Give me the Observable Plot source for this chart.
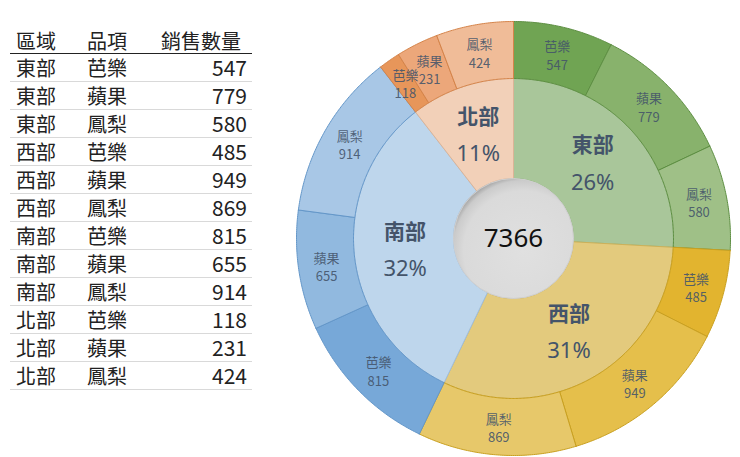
<!DOCTYPE html>
<html><head><meta charset="utf-8">
<script src="https://cdn.jsdelivr.net/npm/d3@7"></script>
<script src="https://cdn.jsdelivr.net/npm/@observablehq/plot@0.6"></script>
<style>
body{margin:0;background:#fff;width:740px;height:457px;position:relative;overflow:hidden;font-family:"Noto Sans CJK TC","Noto Sans",sans-serif;}
#table{position:absolute;left:10px;top:28px;}
table{border-collapse:collapse;width:242px;font-size:20px;color:#222;table-layout:fixed;}
th,td{box-sizing:border-box;white-space:nowrap;}
th{font-weight:normal;height:25px;line-height:25px;padding:0;border-bottom:1.5px solid #222;text-align:left;}
td{height:27px;line-height:27px;padding:0;border-bottom:1px solid #d9d9d9;}
.c1{padding-left:6px;}
.c3{text-align:right;padding-right:5px;}
td.c3{font-size:21px;}
th.c3{padding-right:11px;}
#chart{position:absolute;left:290px;top:0;}
</style></head><body>
<div id="table"></div><div id="chart"></div>
<script>
// ---- data ----
const headers = ["區域", "品項", "銷售數量"];
const regionNames = ["東部", "西部", "南部", "北部"];
const itemNames = ["芭樂", "蘋果", "鳳梨"];
const rowRegions = ["東部","東部","東部","西部","西部","西部","南部","南部","南部","北部","北部","北部"];
const rowItems = ["芭樂","蘋果","鳳梨","芭樂","蘋果","鳳梨","芭樂","蘋果","鳳梨","芭樂","蘋果","鳳梨"];
const salesValues = [547, 779, 580, 485, 949, 869, 815, 655, 914, 118, 231, 424];
const regionPctLabels = ["26%", "31%", "32%", "11%"];
const grandTotal = 7366;

// ---- styles ----
const regionFill = ["#a9c69a", "#e3ca7d", "#bed6ec", "#f2d0b8"];
const regionStroke = ["#8fb27c", "#cdb15a", "#9fbedd", "#dcb497"];
const itemFill = [
  ["#70a453", "#88b26c", "#9fc087"],
  ["#e2b42f", "#e5bf4b", "#e7c86a"],
  ["#77a8d8", "#91b9df", "#a8c7e6"],
  ["#e7965a", "#eca77a", "#f0bc98"]
];
const itemStroke = ["#5e8f43", "#c9a020", "#6497c9", "#d5844a"];
const labelColor = "#44546a";
const colWidths = ["77px", "70px", "95px"];
const R0 = 60, R1 = 160, R2 = 217;

// ---- table ----
const rows = salesValues.map((v, i) => ({region: rowRegions[i], item: rowItems[i], value: v}));
const tbl = d3.select("#table").append("table");
tbl.append("colgroup").selectAll("col").data(colWidths).join("col").style("width", d => d);
tbl.append("tr").selectAll("th").data(headers).join("th")
  .attr("class", (d, i) => "c" + (i + 1)).text(d => d);
rows.forEach(r => {
  const tr = tbl.append("tr");
  tr.append("td").attr("class", "c1").text(r.region);
  tr.append("td").attr("class", "c2").text(r.item);
  tr.append("td").attr("class", "c3").text(r.value);
});

// ---- sunburst geometry ----
const regionRows = regionNames.map((name, ri) => ({
  name, ri, value: d3.sum(rows.filter(r => r.region === name), r => r.value), pct: regionPctLabels[ri]
}));
const pie = d3.pie().sort(null).value(d => d.value);
const innerArcs = pie(regionRows);
const outerArcs = pie(rows);

function arcPoly(a0, a1, r0, r1, key, fill, stroke) {
  const n = Math.max(2, Math.ceil((a1 - a0) / (Math.PI / 360)));
  const pts = [];
  for (let i = 0; i <= n; i++) { const a = a0 + (a1 - a0) * i / n; pts.push([r1 * Math.sin(a), r1 * Math.cos(a)]); }
  for (let i = n; i >= 0; i--) { const a = a0 + (a1 - a0) * i / n; pts.push([r0 * Math.sin(a), r0 * Math.cos(a)]); }
  pts.push(pts[0]);
  return pts.map(([x, y]) => ({x, y, key, fill, stroke}));
}

const polys = [];
innerArcs.forEach((a, i) => polys.push(...arcPoly(a.startAngle, a.endAngle, R0, R1, "r" + i, regionFill[i], regionStroke[i])));
outerArcs.forEach((a, i) => {
  const ri = regionNames.indexOf(a.data.region), ii = itemNames.indexOf(a.data.item);
  polys.push(...arcPoly(a.startAngle, a.endAngle, R1, R2, "o" + i, itemFill[ri][ii], itemStroke[ri]));
});

const mid = (a, r) => { const t = (a.startAngle + a.endAngle) / 2; return {x: r * Math.sin(t), y: r * Math.cos(t)}; };
const innerLabels = innerArcs.map(a => ({...mid(a, 109), name: a.data.name, pct: a.data.pct}));
const outerLabels = outerArcs.map(a => ({...mid(a, 189), text: a.data.item + "\n" + a.data.value}));

const cjk = "Noto Sans CJK TC";
const svg = Plot.plot({
  width: 450, height: 457, margin: 0,
  x: {domain: [-223, 227], axis: null},
  y: {domain: [-219, 238], axis: null},
  color: {type: "identity"},
  style: {background: "transparent"},
  marks: [
    Plot.line(polys, {x: "x", y: "y", z: "key", fill: "fill", stroke: "stroke", strokeWidth: 1, curve: "linear"}),
    Plot.dot([grandTotal], {x: () => 0, y: () => 0, r: R0, fill: "url(#holeGrad)", stroke: "#cfcfcf", strokeWidth: 1}),
    Plot.text([grandTotal], {x: () => 0, y: () => 0, text: d => String(d), fontSize: 26, fill: "#111", fontFamily: "Noto Sans"}),
    Plot.text(innerLabels, {x: "x", y: "y", text: "name", dy: -18, fontSize: 21, fontWeight: "bold", fill: labelColor, fontFamily: cjk}),
    Plot.text(innerLabels, {x: "x", y: "y", text: "pct", dy: 19, fontSize: 22, fill: labelColor, fontFamily: "Noto Sans"}),
    Plot.text(outerLabels, {x: "x", y: "y", text: "text", lineHeight: 1.4, fontSize: 13, fill: labelColor, fillOpacity: 0.9, fontFamily: cjk})
  ]
});
const defs = d3.select(svg).insert("defs", ":first-child");
const g = defs.append("radialGradient").attr("id", "holeGrad").attr("cx", "0.58").attr("cy", "0.6").attr("r", "0.62");
g.append("stop").attr("offset", "0").attr("stop-color", "#e0e0e0");
g.append("stop").attr("offset", "0.8").attr("stop-color", "#dadada");
g.append("stop").attr("offset", "0.94").attr("stop-color", "#cbcbcb");
g.append("stop").attr("offset", "1").attr("stop-color", "#ababab");
document.getElementById("chart").appendChild(svg);
</script>
</body></html>
